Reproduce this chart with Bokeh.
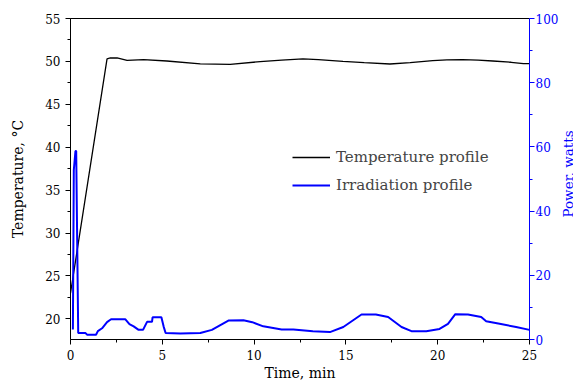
from math import pi
from bokeh.plotting import figure
from bokeh.layouts import row
from bokeh.models import (LinearAxis, Range1d, SingleIntervalTicker, FixedTicker,
                          Legend, LegendItem, Label)
from bokeh.embed import file_html
from bokeh.resources import INLINE

# ---- data ----
time_temp = [0, 1.99, 2.17, 2.54, 3.08, 3.98, 5.25, 7.07, 8.7, 10.33, 11.5, 12.66,
             13.5, 14.84, 16.0, 17.4, 18.5, 19.73, 20.5, 21.36, 22.2, 23.0, 24.0, 24.67, 25.0]
temperature = [23.0, 50.3, 50.4, 50.4, 50.13, 50.2, 50.05, 49.72, 49.65, 49.98, 50.15, 50.3,
               50.22, 50.0, 49.85, 49.7, 49.85, 50.1, 50.17, 50.2, 50.15, 50.05, 49.9, 49.75, 49.75]

time_pow = [0.13, 0.18, 0.27, 0.31, 0.42, 0.82, 0.9, 1.39, 1.49, 1.72, 1.99, 2.21, 2.99,
            3.21, 3.44, 3.71, 3.95, 4.17, 4.44, 4.47, 4.95, 5.07, 5.18, 5.98, 7.07, 7.7,
            8.6, 9.42, 9.9, 10.5, 11.5, 12.14, 13.2, 14.13, 14.86, 15.85, 16.63, 17.3,
            18.03, 18.57, 19.38, 20.1, 20.56, 20.96, 21.65, 22.37, 22.64, 23.37, 24.27, 25.0]
power = [3.1, 52.8, 58.7, 58.7, 2.0, 2.0, 1.5, 1.5, 2.6, 3.5, 5.4, 6.3, 6.3,
         4.8, 4.1, 3.0, 3.0, 5.5, 5.5, 6.9, 6.9, 4.1, 2.0, 1.9, 2.0, 3.0,
         5.9, 6.0, 5.4, 4.1, 3.1, 3.1, 2.6, 2.3, 3.9, 7.8, 7.8, 7.0,
         3.9, 2.6, 2.6, 3.3, 4.9, 7.9, 7.8, 7.0, 5.7, 4.9, 3.9, 3.0]

series_labels = ["Temperature profile", "Irradiation profile"]
x_title = "Time, min"
y_title = "Temperature, °C"
y2_title = "Power, watts"

FONT = "DejaVu Serif"
BLUE = "#0000ff"

p = figure(width=561, height=384, output_backend="svg", toolbar_location=None,
           x_range=Range1d(0, 25), y_range=Range1d(17.6, 55),
           min_border_left=70, min_border_right=32, min_border_top=18, min_border_bottom=45)
p.extra_y_ranges = {"power": Range1d(0, 100)}
p.xgrid.visible = False
p.ygrid.visible = False
p.outline_line_color = None
p.background_fill_color = "white"
p.border_fill_color = "white"

def style_axis(ax, color="black"):
    ax.axis_line_color = color
    ax.major_tick_line_color = color
    ax.minor_tick_line_color = color
    ax.major_label_text_color = color
    ax.major_label_text_font = FONT
    ax.major_label_text_font_size = "12px"
    ax.axis_label_text_font = FONT
    ax.axis_label_text_font_size = "14px"
    ax.axis_label_text_font_style = "normal"
    ax.axis_label_text_color = color
    ax.major_tick_in = 0
    ax.minor_tick_in = 0
    ax.major_tick_out = 5
    ax.minor_tick_out = 3

xa = p.xaxis[0]
xa.ticker = SingleIntervalTicker(interval=5, num_minor_ticks=2)
style_axis(xa)
xa.axis_label = x_title
xa.major_label_standoff = 5
xa.axis_label_standoff = 2

ya = p.yaxis[0]
ya.ticker = SingleIntervalTicker(interval=5, num_minor_ticks=2)
style_axis(ya)
ya.axis_label = y_title
ya.major_label_standoff = 5
ya.axis_label_standoff = 16

ra = LinearAxis(y_range_name="power",
                ticker=SingleIntervalTicker(interval=20, num_minor_ticks=2))
style_axis(ra, BLUE)
ra.major_tick_out = 5
ra.minor_tick_out = 3
ra.major_label_standoff = 1
p.add_layout(ra, "right")

top = LinearAxis(ticker=FixedTicker(ticks=[], minor_ticks=[]))
top.major_tick_line_color = None
top.minor_tick_line_color = None
top.major_label_text_font_size = "0px"
top.axis_line_color = "black"
p.add_layout(top, "above")

r1 = p.line(time_temp, temperature, line_color="black", line_width=1.3)
r2 = p.line(time_pow, power, line_color=BLUE, line_width=2, y_range_name="power")

legend = Legend(items=[LegendItem(label=series_labels[0], renderers=[r1]),
                       LegendItem(label=series_labels[1], renderers=[r2])],
                location=(222, 144), border_line_color=None, background_fill_alpha=0,
                padding=0, margin=0, spacing=8, glyph_width=38, glyph_height=20,
                label_height=20, label_standoff=6, label_text_font=FONT,
                label_text_font_size="15px")
p.add_layout(legend, "center")

# narrow strip to the right holding the right-axis title (reads bottom-to-top)
p2 = figure(width=12, height=384, output_backend="svg", toolbar_location=None,
            x_range=Range1d(0, 12), y_range=Range1d(0, 384),
            x_axis_location=None, y_axis_location=None, min_border=0)
p2.xgrid.visible = False
p2.ygrid.visible = False
p2.outline_line_color = None
p2.background_fill_color = "white"
p2.border_fill_color = "white"
p2.add_layout(Label(x=6, y=198, text=y2_title, angle=pi / 2, text_align="center",
                    text_baseline="middle", text_font=FONT, text_font_size="13.5px",
                    text_color=BLUE))

layout = row(p, p2)
open("out.html", "w").write(file_html(layout, INLINE))
